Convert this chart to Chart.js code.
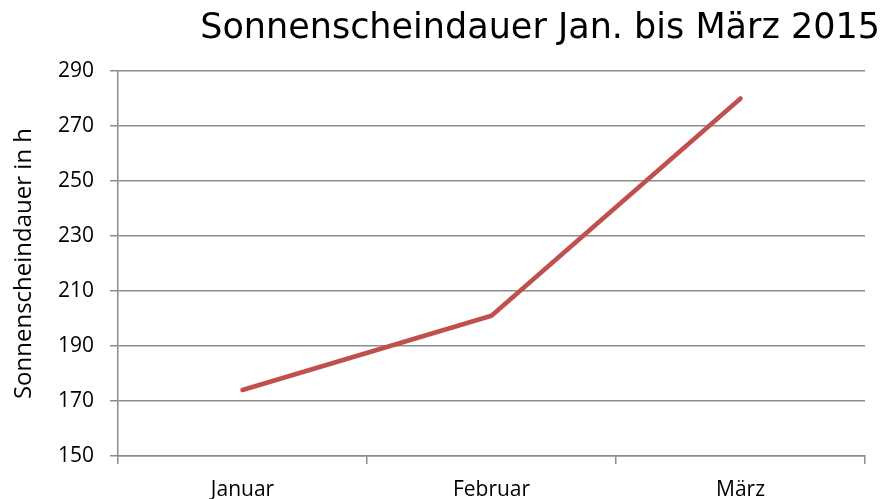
<!DOCTYPE html>
<html>
<head>
<meta charset="utf-8">
<script src="https://cdn.jsdelivr.net/npm/chart.js@4"></script>
<style>
  html, body { margin: 0; padding: 0; background: #fff; }
  #wrap { width: 886px; height: 499px; }
</style>
</head>
<body>
<div id="wrap"><canvas id="chart"></canvas></div>
<script>
//? Data
const months = ['Januar', 'Februar', 'März'];
const sunHours = [174, 201, 280];
const yTicks = [150, 170, 190, 210, 230, 250, 270, 290];

const gridGray = '#8c8c8c';
const tickFont = { family: "'Open Sans', 'Noto Sans', sans-serif", size: 21 };

const ctx = document.getElementById('chart').getContext('2d');
new Chart(ctx, {
  type: 'line',
  data: {
    labels: months,
    datasets: [{
      label: 'Sonnenscheindauer',
      data: sunHours,
      yAxisID: 'y',
      borderColor: '#c0504d',
      borderWidth: 4.5,
      borderCapStyle: 'round',
      borderJoinStyle: 'round',
      pointRadius: 0,
      tension: 0,
      fill: false
    }]
  },
  options: {
    responsive: true,
    maintainAspectRatio: false,
    animation: false,
    layout: { padding: { left: 0, right: 6, top: 0, bottom: 0 } },
    plugins: {
      legend: { display: false },
      tooltip: { enabled: false },
      title: {
        display: true,
        text: 'Sonnenscheindauer Jan. bis März 2015',
        align: 'end',
        color: '#000',
        font: { family: "'DejaVu Sans', Verdana, sans-serif", size: 35, weight: 'normal' },
        padding: { top: 8, bottom: 21 }
      }
    },
    scales: {
      x: {
        offset: true,
        grid: { offset: true, display: true, drawOnChartArea: false, color: gridGray, tickLength: 8, lineWidth: 1.5 },
        border: { color: gridGray, width: 1.5 },
        ticks: { color: '#000', font: tickFont, padding: 13 },
        afterFit: s => { s.height = 43; }
      },
      y: {
        min: 150,
        max: 290,
        afterBuildTicks: s => { s.ticks = yTicks.map(v => ({ value: v })); },
        grid: { color: gridGray, tickLength: 8, lineWidth: 1.5 },
        border: { color: gridGray, width: 1.5 },
        ticks: { color: '#000', font: tickFont, padding: 16 },
        title: {
          display: true,
          text: 'Sonnenscheindauer in h',
          color: '#000',
          font: { family: "'Open Sans', 'Noto Sans', sans-serif", size: 24 },
          padding: { top: 10, bottom: 0 }
        },
        afterFit: s => { s.width = 118; }
      },
      // empty spacer on the right so the title can reach past the plot
      spacer: {
        type: 'linear',
        position: 'right',
        display: true,
        grid: { display: false },
        border: { display: false },
        ticks: { display: false },
        afterFit: s => { s.width = 15; }
      }
    }
  }
});
</script>
</body>
</html>
